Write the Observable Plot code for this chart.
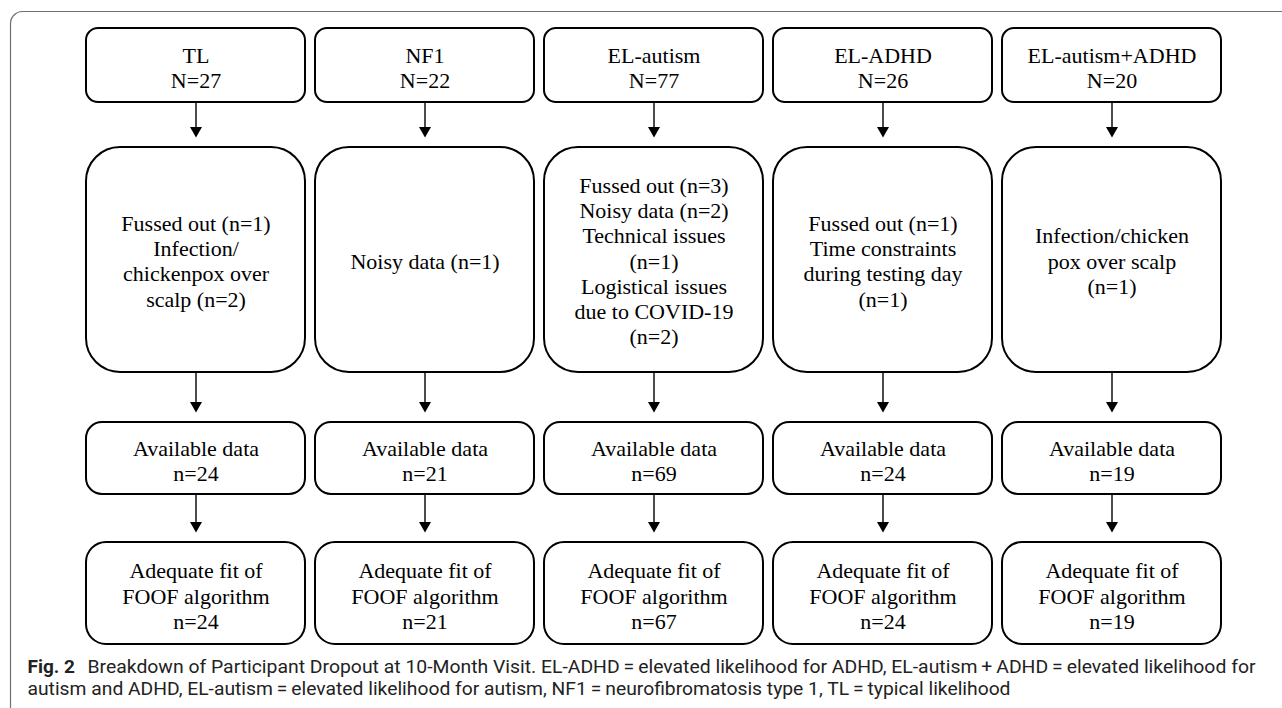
<!DOCTYPE html>
<html>
<head>
<meta charset="utf-8">
<script src="https://cdn.jsdelivr.net/npm/d3@7"></script>
<script src="https://cdn.jsdelivr.net/npm/@observablehq/plot@0.6"></script>
<style>
  html, body { margin: 0; padding: 0; background: white; }
  #chart svg { display: block; overflow: hidden; }
</style>
</head>
<body>
<div id="chart"></div>
<script>
// ---- data ----
const groups = ["TL", "NF1", "EL-autism", "EL-ADHD", "EL-autism+ADHD"];
const enrolled = [27, 22, 77, 26, 20];
const exclusionReasons = [
  "Fussed out (n=1)\nInfection/\nchickenpox over\nscalp (n=2)",
  "Noisy data (n=1)",
  "Fussed out (n=3)\nNoisy data (n=2)\nTechnical issues\n(n=1)\nLogistical issues\ndue to COVID-19\n(n=2)",
  "Fussed out (n=1)\nTime constraints\nduring testing day\n(n=1)",
  "Infection/chicken\npox over scalp\n(n=1)"
];
const available = [24, 21, 69, 24, 19];
const adequateFit = [24, 21, 67, 24, 19];
const captionLabel = "Fig. 2";
const captionLines = [
  "Breakdown of Participant Dropout at 10-Month Visit. EL-ADHD\u2009=\u2009elevated likelihood for ADHD, EL-autism\u2009+\u2009ADHD\u2009=\u2009elevated likelihood for",
  "autism and ADHD, EL-autism\u2009=\u2009elevated likelihood for autism, NF1\u2009=\u2009neurofibromatosis type 1, TL\u2009=\u2009typical likelihood"
];

// ---- layout (pixel units of the y scale) ----
const stages = [
  {key: "enrolled",  top: 28,  bottom: 102, r: 12, textY: 67},
  {key: "excluded",  top: 147, bottom: 372, r: 34, textY: 260},
  {key: "available", top: 422, bottom: 494, r: 16, textY: 460},
  {key: "fit",       top: 542, bottom: 644, r: 20, textY: 595}
];
const captionLayout = {labelX: 27, lineX: [87, 27], lineWidth: [1168, 983], baseline: [672, 694]};

const rows = groups.map((g, i) => ({
  group: g,
  texts: [
    `${g}\nN=${enrolled[i]}`,
    exclusionReasons[i],
    `Available data\nn=${available[i]}`,
    `Adequate fit of\nFOOF algorithm\nn=${adequateFit[i]}`
  ]
}));

const serif = "'Liberation Serif', 'Times New Roman', serif";
const headW = 12;
const triR = Math.sqrt((Math.sqrt(3) / 4) * headW * headW / Math.PI);
const triH = headW * Math.sqrt(3) / 2;

const marks = [
  Plot.frame({stroke: "#707070", strokeWidth: 1.2, rx: 12, insetLeft: -75, insetTop: 11, insetRight: -120, insetBottom: -120})
];

stages.forEach((s, si) => {
  marks.push(Plot.barY(rows, {x: "group", y1: () => s.top, y2: () => s.bottom,
    fill: "white", stroke: "black", strokeWidth: 2, rx: s.r}));
  marks.push(Plot.text(rows, {x: "group", y: () => s.textY, text: d => d.texts[si],
    fontFamily: serif, fontSize: 22, lineHeight: 1.15, fill: "black"}));
  if (si < stages.length - 1) {
    const tip = stages[si + 1].top - 10;
    marks.push(Plot.ruleX(rows, {x: "group", y1: () => s.bottom, y2: () => tip - triH + 1,
      stroke: "black", strokeWidth: 1.4}));
    marks.push(Plot.dot(rows, {x: "group", y: () => tip - triH * 2 / 3, symbol: "triangle",
      rotate: 180, r: triR, fill: "black", stroke: "none"}));
  }
});

// caption
marks.push(Plot.text([captionLabel], {frameAnchor: "left", y: () => captionLayout.baseline[0], text: d => d,
  textAnchor: "start", fontFamily: "Roboto", fontWeight: "bold", fontSize: 19, fill: "#222"}));
marks.push(Plot.text(captionLines, {frameAnchor: "left", y: (d, i) => captionLayout.baseline[i],
  text: d => d, textAnchor: "start", fontFamily: "Roboto", fontSize: 19, fill: "#222"}));

const chart = Plot.plot({
  width: 1282,
  height: 708,
  marginLeft: 85,
  marginRight: 61,
  marginTop: 0,
  marginBottom: 0,
  x: {type: "band", domain: groups, paddingInner: 0.044, paddingOuter: 0, axis: null},
  y: {type: "linear", domain: [0, 708], range: [0, 708], axis: null},
  style: {background: "white", overflow: "hidden"},
  marks
});

// caption lines: position at baseline and fit widths
d3.select(chart).selectAll("text").each(function() {
  const t = d3.select(this);
  const content = this.textContent;
  const li = captionLines.indexOf(content);
  if (li >= 0) {
    t.attr("transform", null).attr("x", captionLayout.lineX[li]).attr("y", captionLayout.baseline[li])
     .attr("dy", null)
     .attr("textLength", captionLayout.lineWidth[li]).attr("lengthAdjust", "spacingAndGlyphs");
  } else if (content === captionLabel) {
    t.attr("transform", null).attr("x", captionLayout.labelX).attr("y", captionLayout.baseline[0]).attr("dy", null);
  }
});

document.getElementById("chart").appendChild(chart);
</script>
</body>
</html>
